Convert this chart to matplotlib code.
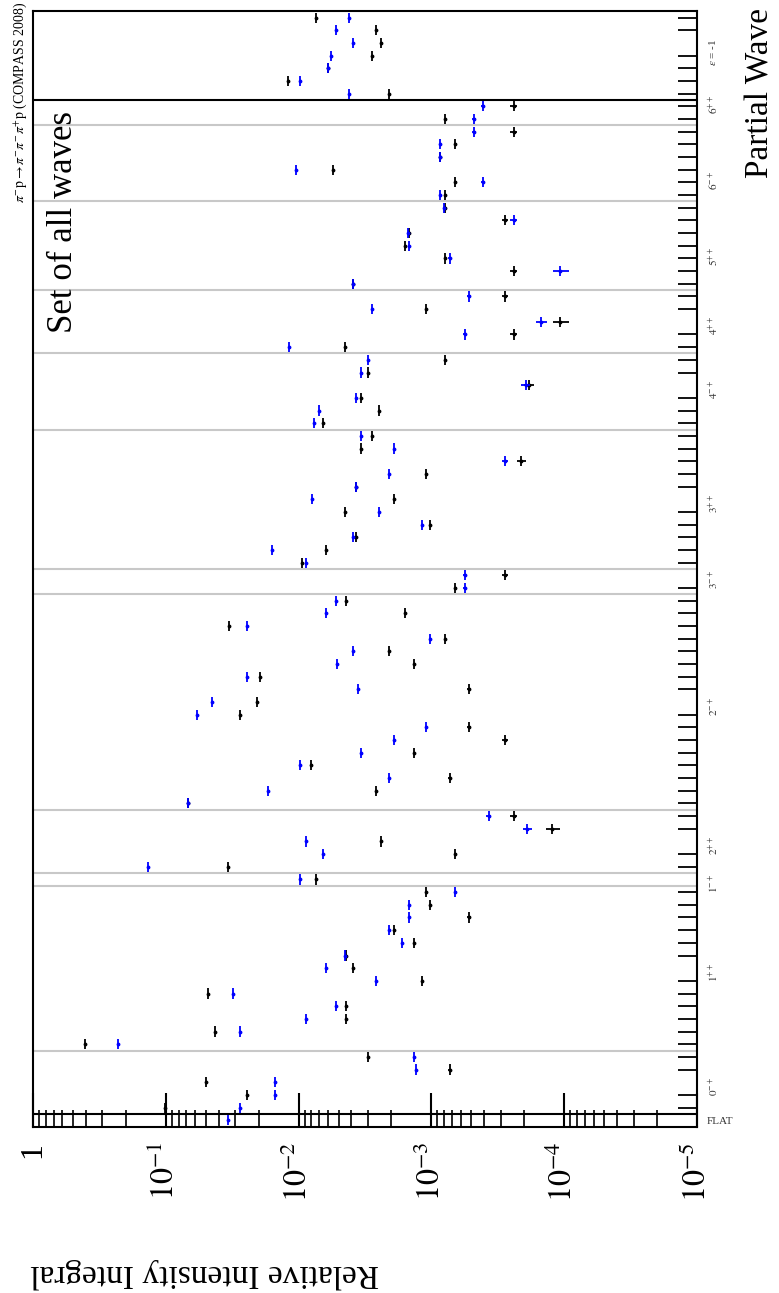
import numpy as np
import matplotlib
matplotlib.use('Agg')
import matplotlib.pyplot as plt
from matplotlib.ticker import LogLocator, NullFormatter

plt.rcParams['font.family'] = ['Liberation Serif', 'DejaVu Serif']
plt.rcParams['mathtext.fontset'] = 'stix'

nan = float('nan')

# relative intensity per wave bin (bin 0 = FLAT, counting up)
black = [nan, 0.101, 0.0244, 0.0497, 0.00073, 0.0030,
         0.406, 0.0425, 0.0044, 0.0044, 0.048, 0.00117, 0.0039, 0.0044, 0.00135, 0.0019, 0.00052, 0.00102, 0.00109,
         0.0074,
         0.034, 0.00066, 0.0024, 0.000123, 0.00024,
         0.068, 0.0026, 0.00073, 0.0080, 0.00135, 0.00028, 0.00052, 0.0275, 0.0205, 0.00052, 0.0195, 0.00135,
         0.0021, 0.00079, 0.0334, 0.00157, 0.0044,
         0.00066, 0.00028,
         0.0094, 0.0062, 0.0037, 0.00102, 0.0045, 0.0019, 0.0037, 0.00109, 0.00021, 0.0034, 0.0028,
         0.0066, 0.0025, 0.0034, 0.000185, 0.0030, 0.00079,
         0.0045, 0.00024, 0.000107, 0.00109, 0.00028,
         0.0039, 0.00024, 0.00079, 0.00157, 0.00147, 0.00028, 0.00079,
         0.00079, 0.00066, 0.0055, 0.00086, 0.00066, 0.00024,
         0.00079, 0.00024,
         0.0021, 0.012, 0.0060, 0.0028, 0.0024, 0.0026, 0.0074]

blue = [0.034, 0.0275, 0.015, 0.015, 0.0013, 0.00135,
        0.229, 0.0275, 0.0088, 0.0052, 0.0311, 0.0026, 0.0062, 0.0045, 0.00166, 0.0021, 0.00147, 0.00147, 0.00066,
        0.0097,
        0.136, 0.0065, 0.0088, 0.00019, 0.00037,
        0.068, 0.0169, 0.0021, 0.0097, 0.0034, 0.0019, 0.00109, 0.058, 0.0448, 0.0036, 0.0244, 0.0051,
        0.0039, 0.00102, 0.0244, 0.0062, 0.0052,
        0.00056, 0.00056,
        0.0088, 0.0158, 0.0039, 0.00117, 0.0025, 0.0079, 0.0037, 0.0021, 0.00028, 0.0019, 0.0034,
        0.0076, 0.0070, 0.0037, 0.000195, 0.0034, 0.0030,
        0.0118, 0.00056, 0.000149, 0.0028, 0.00052,
        0.0039, 0.000107, 0.00073, 0.00147, 0.0015, 0.00024, 0.0008,
        0.00086, 0.00041, 0.0104, 0.00086, 0.00086, 0.00048,
        0.00048, 0.00041,
        0.0042, 0.0097, 0.0060, 0.0057, 0.0039, 0.0052, 0.0042]

err_abs = 1.5e-5

group_labels = ['FLAT', r'$0^{-+}$', r'$1^{++}$', r'$1^{-+}$', r'$2^{++}$', r'$2^{-+}$', r'$3^{-+}$',
                r'$3^{++}$', r'$4^{-+}$', r'$4^{++}$', r'$5^{++}$', r'$6^{-+}$', r'$6^{++}$', r'$\varepsilon$ = -1']
group_pos = [0, 3, 12, 19, 22, 33, 43, 49, 58, 63, 68.5, 74.5, 80.5, 85]
gray_bounds = [5.5, 18.5, 19.5, 24.5, 41.5, 43.5, 54.5, 60.5, 65.5, 72.5, 78.5]
black_bounds = [0.5, 80.5]

decades = [1, 1e-1, 1e-2, 1e-3, 1e-4, 1e-5]
decade_labels = ['1', r'$10^{-1}$', r'$10^{-2}$', r'$10^{-3}$', r'$10^{-4}$', r'$10^{-5}$']

W, H = 779, 1293
fig = plt.figure(figsize=(W / 100, H / 100), dpi=100)
ax = fig.add_axes([33 / W, 1 - 1126.6 / H, (697 - 33) / W, (1126.6 - 11.3) / H])

bins = np.arange(len(blue))
for b in gray_bounds:
    ax.axhline(b, color='#c8c8c8', lw=1.5, zorder=0)
for b in black_bounds:
    ax.axhline(b, color='k', lw=1.5, zorder=1)

ax.errorbar(black, bins, xerr=err_abs, yerr=0.4, fmt='.', color='k', ms=3.5,
            elinewidth=1.3, capsize=0, zorder=3)
ax.errorbar(blue, bins, xerr=err_abs, yerr=0.4, fmt='.', color='#0000ff', ms=3.5,
            elinewidth=1.3, capsize=0, zorder=4)

ax.set_xscale('log')
ax.set_xlim(1, 1e-5)
ax.set_ylim(-0.5, len(blue) - 0.5)

ax.set_xticks(decades, decade_labels)
ax.xaxis.set_minor_locator(LogLocator(base=10, subs=np.arange(2, 10)))
ax.xaxis.set_minor_formatter(NullFormatter())
ax.tick_params(axis='x', which='major', direction='in', length=24.5, width=1.5,
               top=False, labelsize=23, labelrotation=90, pad=11)
ax.tick_params(axis='x', which='minor', direction='in', length=12.2, width=1.2, top=False)

ax.yaxis.tick_right()
ax.set_yticks(bins, minor=True)
ax.set_yticks(group_pos, group_labels)
ax.tick_params(axis='y', which='minor', direction='in', length=13.7, width=1.3, left=False, right=True)
ax.tick_params(axis='y', which='major', length=0, pad=7, labelsize=8, labelcolor='#333333',
               labelrotation=90, left=False, right=True)
flat = ax.get_yticklabels()[0]
flat.set_rotation(0)

for s in ax.spines.values():
    s.set_linewidth(1.5)

fig.text(30 / W, 1 - 1273 / H, 'Relative Intensity Integral', rotation=180,
         ha='left', va='center', fontsize=24)
fig.text(760 / W, 1 - 8 / H, 'Partial Wave', rotation=90, ha='center', va='top', fontsize=24)
fig.text(20 / W, 1 - 2 / H, r'$\pi^{-}\mathrm{p}\rightarrow\pi^{-}\pi^{-}\pi^{+}\mathrm{p}$ (COMPASS 2008)',
         rotation=90, ha='center', va='top', fontsize=10)
fig.text(64 / W, 1 - 333 / H, 'Set of all waves', rotation=90, ha='center', va='bottom', fontsize=25)

fig.savefig('out.png', dpi=100)
